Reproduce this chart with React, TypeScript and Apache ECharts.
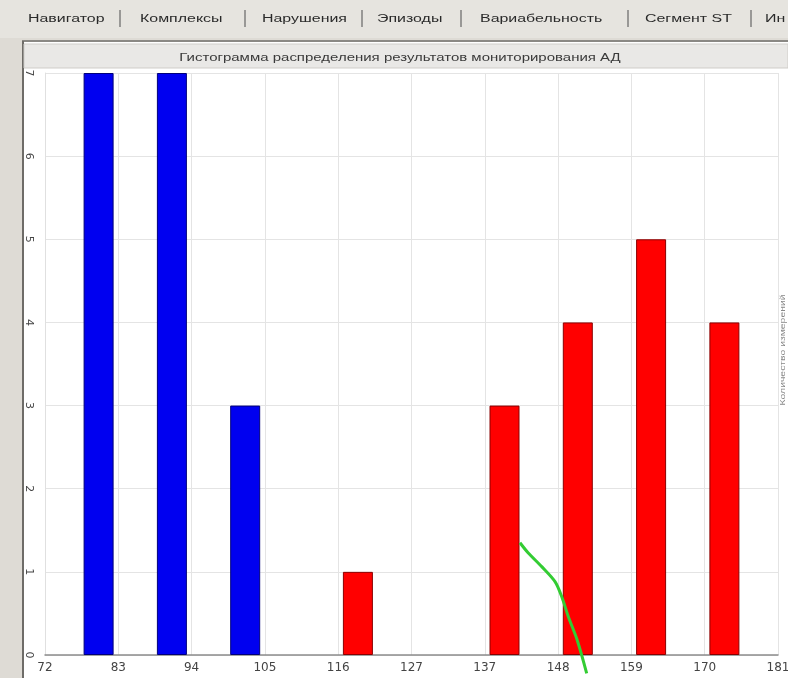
import React, { useEffect, useRef } from "react";
import * as echarts from "echarts";

const binNames = ["72-83", "83-94", "94-105", "105-116", "116-127", "127-137", "137-148", "148-159", "159-170", "170-181"];
const systolicCounts = [0, 0, 0, 0, 1, 0, 3, 4, 5, 4];
const diastolicCounts = [7, 7, 3, 0, 0, 0, 0, 0, 0, 0];
const tickLabels = ["72", "83", "94", "105", "116", "127", "137", "148", "159", "170", "181"];
const curveX = [6.48, 6.59, 6.78, 6.96, 7.05, 7.14, 7.26, 7.39];
const curveY = [1.35, 1.23, 1.06, 0.88, 0.7, 0.46, 0.18, -0.22];
const tabs = ["Навигатор", "Комплексы", "Нарушения", "Эпизоды", "Вариабельность", "Сегмент ST", "Ин"];
const tabX = [28, 140, 262, 377, 480, 645, 765];
const sepX = [120, 245, 362, 461, 628, 751];
const chartTitle = "Гистограмма распределения результатов мониторирования АД";

export default function App() {
  const ref = useRef<HTMLDivElement>(null);
  useEffect(() => {
    if (!ref.current) return;
    const chart = echarts.init(ref.current, undefined, { renderer: "svg" });
    const font = "Liberation Sans";
    const graphics: any[] = [
      { type: "rect", z: -10, shape: { x: 0, y: 0, width: 788, height: 678 }, style: { fill: "#dedbd5" } },
      { type: "rect", z: -9, shape: { x: 0, y: 0, width: 788, height: 38 }, style: { fill: "#e6e4df" } },
      { type: "line", z: -8, shape: { x1: 22, y1: 41, x2: 788, y2: 41 }, style: { stroke: "#8a8884", lineWidth: 2 } },
      { type: "line", z: -8, shape: { x1: 23, y1: 41, x2: 23, y2: 678 }, style: { stroke: "#6e6c68", lineWidth: 2 } },
      { type: "rect", z: -8, shape: { x: 24, y: 42, width: 764, height: 636 }, style: { fill: "#ffffff" } },
      { type: "rect", z: -7, shape: { x: 24, y: 44, width: 764, height: 24 }, style: { fill: "#e9e8e6", stroke: "#cfcdc9", lineWidth: 1 } },
      { type: "text", x: 400, y: 57, scaleX: 1.5, style: { text: chartTitle, fill: "#3a3a3a", font: `10px ${font}`, align: "center", verticalAlign: "middle" } },
      { type: "text", x: 782, y: 350, rotation: Math.PI / 2, scaleX: 1.3, style: { text: "Количество измерений", fill: "#888", font: `8px ${font}`, align: "center", verticalAlign: "middle" } },
    ];
    tabs.forEach((t, i) => {
      graphics.push({ type: "text", x: tabX[i], y: 18, scaleX: 1.45, style: { text: t, fill: "#2a2a2a", font: `11px ${font}`, verticalAlign: "middle" } });
    });
    sepX.forEach((x) => {
      graphics.push({ type: "line", shape: { x1: x, y1: 10, x2: x, y2: 27 }, style: { stroke: "#666", lineWidth: 1.2 } });
    });
    const nz = (arr: number[]) => arr.map((v) => (v === 0 ? "-" : v));
    chart.setOption({
      animation: false,
      backgroundColor: "transparent",
      graphic: graphics,
      grid: { left: 45, right: 10, top: 73, bottom: 23, containLabel: false, outerBoundsMode: "none" },
      xAxis: [
        {
          type: "category",
          data: binNames,
          boundaryGap: true,
          axisLine: { show: false },
          axisTick: { show: false },
          axisLabel: { show: false },
          splitLine: { show: false },
        },
        {
          type: "value",
          position: "bottom",
          min: 0,
          max: 10,
          interval: 1,
          axisLine: { show: true, onZero: false, lineStyle: { color: "#8c8c8c", width: 1.5 } },
          axisTick: { show: false },
          axisLabel: {
            margin: 6,
            color: "#444",
            fontSize: 12,
            fontFamily: "DejaVu Sans",
            formatter: (v: number) => tickLabels[Math.round(v)] ?? "",
          },
          splitLine: { show: true, lineStyle: { color: "#e4e4e4", width: 1 } },
        },
      ],
      yAxis: {
        type: "value",
        min: 0,
        max: 7,
        interval: 1,
        axisLine: { show: true, lineStyle: { color: "#e0e0e0" } },
        axisTick: { show: false },
        axisLabel: { rotate: -90, margin: 10, color: "#444", fontSize: 11, fontFamily: "DejaVu Sans" },
        splitLine: { show: true, lineStyle: { color: "#e4e4e4", width: 1 } },
      },
      series: [
        {
          name: "САД",
          type: "bar",
          xAxisIndex: 0,
          data: nz(systolicCounts),
          barWidth: 30,
          barGap: "13%",
          itemStyle: { color: "#ff0000", borderColor: "#8a0000", borderWidth: 1 },
        },
        {
          name: "ДАД",
          type: "bar",
          xAxisIndex: 0,
          data: nz(diastolicCounts),
          barWidth: 30,
          barGap: "13%",
          itemStyle: { color: "#0000f0", borderColor: "#00007a", borderWidth: 1 },
        },
        {
          name: "curve",
          type: "line",
          xAxisIndex: 1,
          yAxisIndex: 0,
          data: curveX.map((x, i) => [x, curveY[i]]),
          symbol: "none",
          smooth: 0.3,
          clip: false,
          lineStyle: { color: "#33cc33", width: 3 },
          z: 5,
        },
      ],
    });
    return () => chart.dispose();
  }, []);
  return <div ref={ref} style={{ position: "fixed", left: 0, top: 0, width: 788, height: 678 }} />;
}
